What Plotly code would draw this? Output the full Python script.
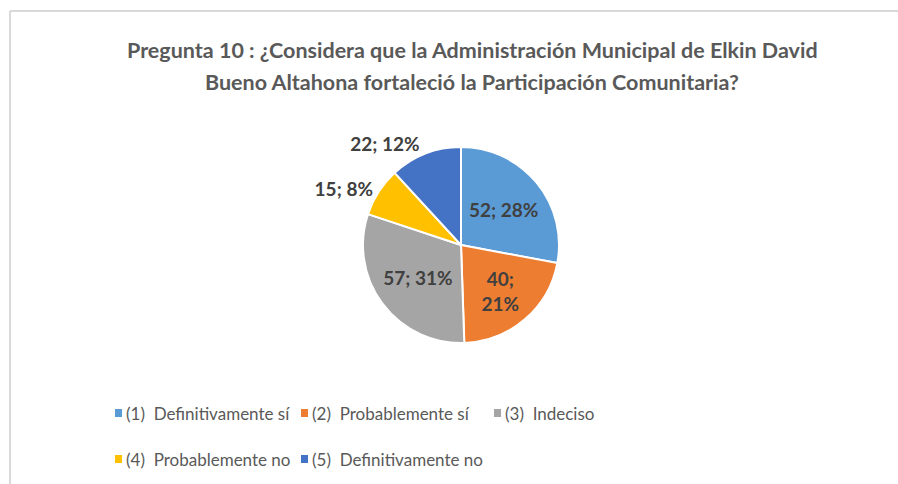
import plotly.graph_objects as go

categories = ["(1)  Definitivamente sí", "(2)  Probablemente sí", "(3)  Indeciso",
              "(4)  Probablemente no", "(5)  Definitivamente no"]
counts = [52, 40, 57, 15, 22]
pct_labels = ["28%", "21%", "31%", "8%", "12%"]
colors = ["#5B9BD5", "#ED7D31", "#A5A5A5", "#FFC000", "#4472C4"]
title_lines = ["Pregunta 10 : ¿Considera que la Administración Municipal de Elkin David",
               "Bueno Altahona fortaleció la Participación Comunitaria?"]

W, H = 898, 484
FONT = "Lato, sans-serif"

def px(x):
    return x / W

def py(y):
    return 1 - y / H

texts = []
for c, p in zip(counts, pct_labels):
    if c == 40:
        texts.append(f"{c};<br>{p}")
    else:
        texts.append(f"{c}; {p}")

fig = go.Figure(go.Pie(
    labels=categories,
    values=counts,
    text=texts,
    textinfo="text",
    textposition=["inside", "inside", "inside", "outside", "outside"],
    insidetextorientation="horizontal",
    sort=False,
    direction="clockwise",
    rotation=0,
    marker=dict(colors=colors, line=dict(color="white", width=2)),
    textfont=dict(family=FONT, size=19, color="#404040", weight="bold"),
    domain=dict(x=[px(461 - 200), px(461 + 200)], y=[py(245 + 98), py(245 - 98)]),
    showlegend=False,
    hoverinfo="label+value+percent",
))

annotations = []
for i, line in enumerate(title_lines):
    annotations.append(dict(
        text=line, x=px(472), y=py(50 + 32 * i), xref="paper", yref="paper",
        xanchor="center", yanchor="middle", showarrow=False,
        font=dict(family=FONT, size=21.5, color="#595959", weight="bold"),
    ))

shapes = [
    dict(type="line", xref="paper", yref="paper", x0=px(10), x1=px(898), y0=py(11), y1=py(11),
         line=dict(color="#D9D9D9", width=2)),
    dict(type="line", xref="paper", yref="paper", x0=px(10), x1=px(10), y0=py(11), y1=py(484),
         line=dict(color="#D9D9D9", width=2)),
]

legend_pos = [(115, 413), (301, 413), (494, 413), (115, 459), (301, 459)]
for cat, col, (lx, ly) in zip(categories, colors, legend_pos):
    shapes.append(dict(type="rect", xref="paper", yref="paper",
                       x0=px(lx), x1=px(lx + 7), y0=py(ly + 4), y1=py(ly - 4),
                       fillcolor=col, line=dict(width=0)))
    annotations.append(dict(
        text=cat, x=px(lx + 9), y=py(ly), xref="paper", yref="paper",
        xanchor="left", yanchor="middle", showarrow=False,
        font=dict(family=FONT, size=17, color="#595959"),
    ))

fig.update_layout(
    width=W, height=H,
    margin=dict(l=0, r=0, t=0, b=0),
    paper_bgcolor="white", plot_bgcolor="white",
    annotations=annotations, shapes=shapes,
)

fig.write_html("out.html", config={"displayModeBar": False},
               post_script="document.body.style.margin='0';document.body.style.overflow='hidden';")
